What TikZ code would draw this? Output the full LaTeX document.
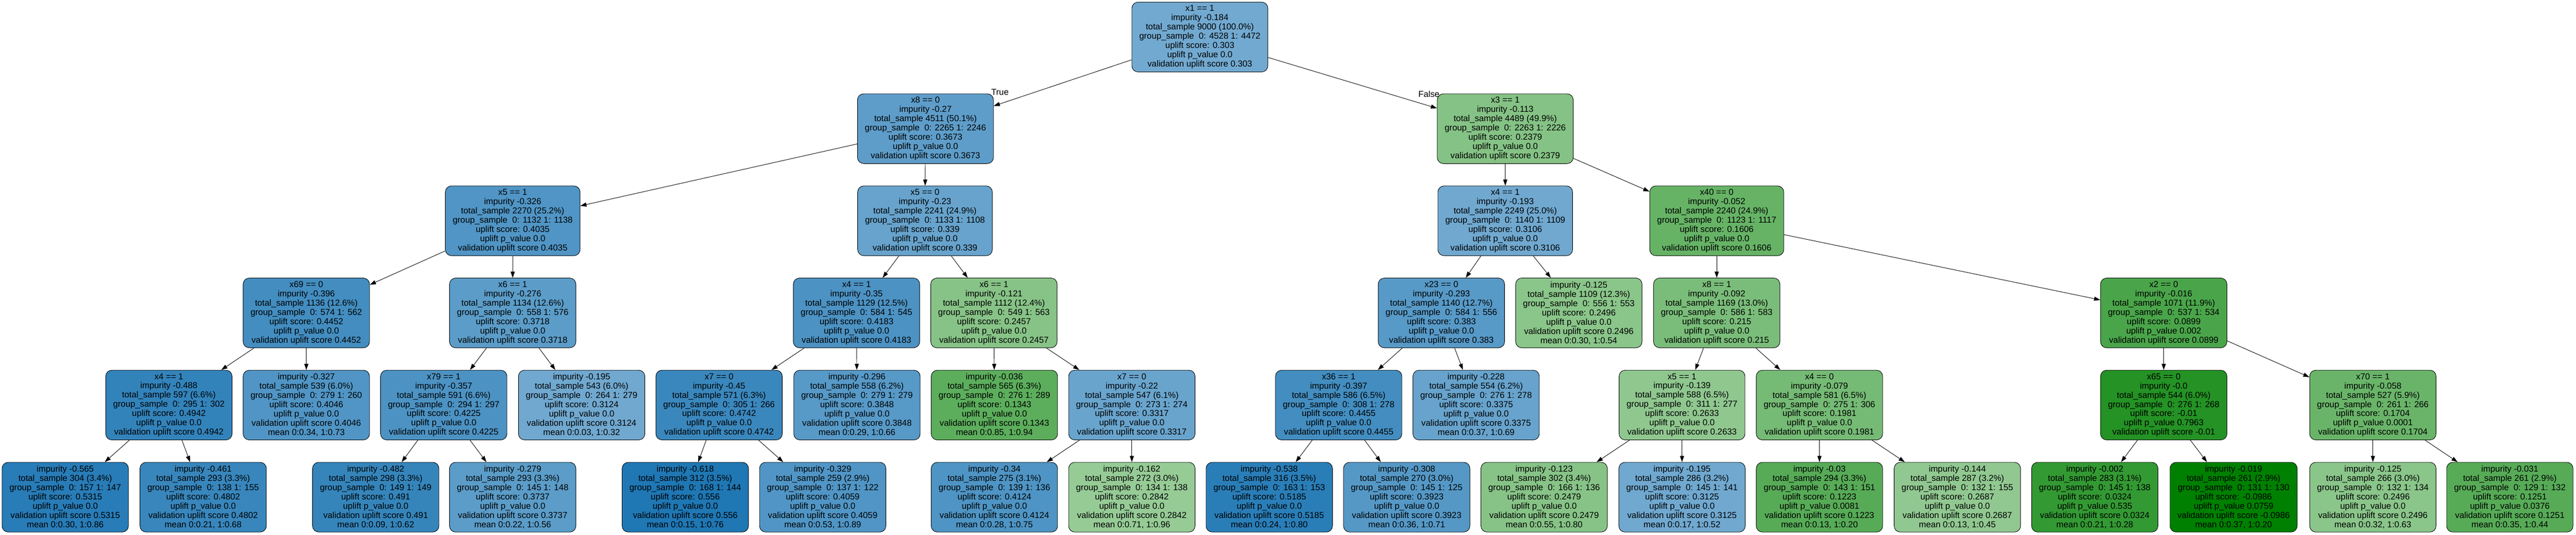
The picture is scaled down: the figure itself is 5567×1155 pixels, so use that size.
\documentclass[tikz,border=0pt]{standalone}
\usepackage{fontspec}
\setmainfont{Liberation Sans}
\usetikzlibrary{arrows.meta}
\definecolor{upblue}{RGB}{31,119,180}
\definecolor{upgreen}{RGB}{0,128,0}
\tikzset{ub/.style={fill=upblue!#1!white},ug/.style={fill=upgreen!#1!white}}

\begin{document}
\begin{tikzpicture}
[x=0.75pt,y=-0.75pt,%
  every node/.style={shape=rectangle,rounded corners=10pt,draw,line width=0.75pt,align=center,%
    font=\fontsize{14pt}{15pt}\selectfont,minimum width=204pt,minimum height=113pt,%
    inner xsep=12pt,inner ysep=0pt},%
  lbl/.style={draw=none,fill=none,rounded corners=0pt,minimum width=0pt,minimum height=0pt,inner sep=1pt},%
  every edge/.style={draw,line width=0.75pt,-{Triangle[length=10pt,width=6.7pt]}}]
\path[use as bounding box] (0,0) rectangle (5567,1155);

\node[ub=63] (n) at (2593,80) {x1 == 1\\impurity -0.184\\total\_sample 9000 (100.0\%)\\group\_sample\ \ 0: 4528 1: 4472\\uplift score: 0.303\\uplift p\_value 0.0\\validation uplift score 0.303};

\node[ub=72] (n0) at (2000,278) {x8 == 0\\impurity -0.27\\total\_sample 4511 (50.1\%)\\group\_sample\ \ 0: 2265 1: 2246\\uplift score: 0.3673\\uplift p\_value 0.0\\validation uplift score 0.3673};
\node[ug=48] (n1) at (3253,278) {x3 == 1\\impurity -0.113\\total\_sample 4489 (49.9\%)\\group\_sample\ \ 0: 2263 1: 2226\\uplift score: 0.2379\\uplift p\_value 0.0\\validation uplift score 0.2379};

\node[ub=78] (n00) at (1108,477) {x5 == 1\\impurity -0.326\\total\_sample 2270 (25.2\%)\\group\_sample\ \ 0: 1132 1: 1138\\uplift score: 0.4035\\uplift p\_value 0.0\\validation uplift score 0.4035};
\node[ub=68] (n01) at (1999,477) {x5 == 0\\impurity -0.23\\total\_sample 2241 (24.9\%)\\group\_sample\ \ 0: 1133 1: 1108\\uplift score: 0.339\\uplift p\_value 0.0\\validation uplift score 0.339};
\node[ub=64] (n10) at (3253,477) {x4 == 1\\impurity -0.193\\total\_sample 2249 (25.0\%)\\group\_sample\ \ 0: 1140 1: 1109\\uplift score: 0.3106\\uplift p\_value 0.0\\validation uplift score 0.3106};
\node[ug=60] (n11) at (3710,477) {x40 == 0\\impurity -0.052\\total\_sample 2240 (24.9\%)\\group\_sample\ \ 0: 1123 1: 1117\\uplift score: 0.1606\\uplift p\_value 0.0\\validation uplift score 0.1606};

\node[ub=84] (n000) at (662,676) {x69 == 0\\impurity -0.396\\total\_sample 1136 (12.6\%)\\group\_sample\ \ 0: 574 1: 562\\uplift score: 0.4452\\uplift p\_value 0.0\\validation uplift score 0.4452};
\node[ub=73] (n001) at (1108,676) {x6 == 1\\impurity -0.276\\total\_sample 1134 (12.6\%)\\group\_sample\ \ 0: 558 1: 576\\uplift score: 0.3718\\uplift p\_value 0.0\\validation uplift score 0.3718};
\node[ub=80] (n010) at (1851,676) {x4 == 1\\impurity -0.35\\total\_sample 1129 (12.5\%)\\group\_sample\ \ 0: 584 1: 545\\uplift score: 0.4183\\uplift p\_value 0.0\\validation uplift score 0.4183};
\node[ug=47] (n011) at (2148,676) {x6 == 1\\impurity -0.121\\total\_sample 1112 (12.4\%)\\group\_sample\ \ 0: 549 1: 563\\uplift score: 0.2457\\uplift p\_value 0.0\\validation uplift score 0.2457};
\node[ub=75] (n100) at (3115,676) {x23 == 0\\impurity -0.293\\total\_sample 1140 (12.7\%)\\group\_sample\ \ 0: 584 1: 556\\uplift score: 0.383\\uplift p\_value 0.0\\validation uplift score 0.383};
\node[ug=46] (n101) at (3412,676) {impurity -0.125\\total\_sample 1109 (12.3\%)\\group\_sample\ \ 0: 556 1: 553\\uplift score: 0.2496\\uplift p\_value 0.0\\validation uplift score 0.2496\\mean 0:0.30, 1:0.54};
\node[ug=52] (n110) at (3710,676) {x8 == 1\\impurity -0.092\\total\_sample 1169 (13.0\%)\\group\_sample\ \ 0: 586 1: 583\\uplift score: 0.215\\uplift p\_value 0.0\\validation uplift score 0.215};
\node[ug=71] (n111) at (4676,676) {x2 == 0\\impurity -0.016\\total\_sample 1071 (11.9\%)\\group\_sample\ \ 0: 537 1: 534\\uplift score: 0.0899\\uplift p\_value 0.002\\validation uplift score 0.0899};

\node[ub=91] (n0000) at (365,875) {x4 == 1\\impurity -0.488\\total\_sample 597 (6.6\%)\\group\_sample\ \ 0: 295 1: 302\\uplift score: 0.4942\\uplift p\_value 0.0\\validation uplift score 0.4942};
\node[ub=78] (n0001) at (662,875) {impurity -0.327\\total\_sample 539 (6.0\%)\\group\_sample\ \ 0: 279 1: 260\\uplift score: 0.4046\\uplift p\_value 0.0\\validation uplift score 0.4046\\mean 0:0.34, 1:0.73};
\node[ub=80] (n0010) at (959,875) {x79 == 1\\impurity -0.357\\total\_sample 591 (6.6\%)\\group\_sample\ \ 0: 294 1: 297\\uplift score: 0.4225\\uplift p\_value 0.0\\validation uplift score 0.4225};
\node[ub=64] (n0011) at (1257,875) {impurity -0.195\\total\_sample 543 (6.0\%)\\group\_sample\ \ 0: 264 1: 279\\uplift score: 0.3124\\uplift p\_value 0.0\\validation uplift score 0.3124\\mean 0:0.03, 1:0.32};
\node[ub=88] (n0100) at (1554,875) {x7 == 0\\impurity -0.45\\total\_sample 571 (6.3\%)\\group\_sample\ \ 0: 305 1: 266\\uplift score: 0.4742\\uplift p\_value 0.0\\validation uplift score 0.4742};
\node[ub=75] (n0101) at (1852,875) {impurity -0.296\\total\_sample 558 (6.2\%)\\group\_sample\ \ 0: 279 1: 279\\uplift score: 0.3848\\uplift p\_value 0.0\\validation uplift score 0.3848\\mean 0:0.29, 1:0.66};
\node[ug=64] (n0110) at (2149,875) {impurity -0.036\\total\_sample 565 (6.3\%)\\group\_sample\ \ 0: 276 1: 289\\uplift score: 0.1343\\uplift p\_value 0.0\\validation uplift score 0.1343\\mean 0:0.85, 1:0.94};
\node[ub=67] (n0111) at (2446,875) {x7 == 0\\impurity -0.22\\total\_sample 547 (6.1\%)\\group\_sample\ \ 0: 273 1: 274\\uplift score: 0.3317\\uplift p\_value 0.0\\validation uplift score 0.3317};
\node[ub=84] (n1000) at (2893,875) {x36 == 1\\impurity -0.397\\total\_sample 586 (6.5\%)\\group\_sample\ \ 0: 308 1: 278\\uplift score: 0.4455\\uplift p\_value 0.0\\validation uplift score 0.4455};
\node[ub=68] (n1001) at (3190,875) {impurity -0.228\\total\_sample 554 (6.2\%)\\group\_sample\ \ 0: 276 1: 278\\uplift score: 0.3375\\uplift p\_value 0.0\\validation uplift score 0.3375\\mean 0:0.37, 1:0.69};
\node[ug=44] (n1100) at (3635,875) {x5 == 1\\impurity -0.139\\total\_sample 588 (6.5\%)\\group\_sample\ \ 0: 311 1: 277\\uplift score: 0.2633\\uplift p\_value 0.0\\validation uplift score 0.2633};
\node[ug=54] (n1101) at (3932,875) {x4 == 0\\impurity -0.079\\total\_sample 581 (6.5\%)\\group\_sample\ \ 0: 275 1: 306\\uplift score: 0.1981\\uplift p\_value 0.0\\validation uplift score 0.1981};
\node[ug=86] (n1110) at (4676,875) {x65 == 0\\impurity -0.0\\total\_sample 544 (6.0\%)\\group\_sample\ \ 0: 276 1: 268\\uplift score: -0.01\\uplift p\_value 0.7963\\validation uplift score -0.01};
\node[ug=59] (n1111) at (5128,875) {x70 == 1\\impurity -0.058\\total\_sample 527 (5.9\%)\\group\_sample\ \ 0: 261 1: 266\\uplift score: 0.1704\\uplift p\_value 0.0001\\validation uplift score 0.1704};

\node[ub=96] (n00000) at (141,1074) {impurity -0.565\\total\_sample 304 (3.4\%)\\group\_sample\ \ 0: 157 1: 147\\uplift score: 0.5315\\uplift p\_value 0.0\\validation uplift score 0.5315\\mean 0:0.30, 1:0.86};
\node[ub=89] (n00001) at (439,1074) {impurity -0.461\\total\_sample 293 (3.3\%)\\group\_sample\ \ 0: 138 1: 155\\uplift score: 0.4802\\uplift p\_value 0.0\\validation uplift score 0.4802\\mean 0:0.21, 1:0.68};
\node[ub=90] (n00100) at (812,1074) {impurity -0.482\\total\_sample 298 (3.3\%)\\group\_sample\ \ 0: 149 1: 149\\uplift score: 0.491\\uplift p\_value 0.0\\validation uplift score 0.491\\mean 0:0.09, 1:0.62};
\node[ub=73] (n00101) at (1108,1074) {impurity -0.279\\total\_sample 293 (3.3\%)\\group\_sample\ \ 0: 145 1: 148\\uplift score: 0.3737\\uplift p\_value 0.0\\validation uplift score 0.3737\\mean 0:0.22, 1:0.56};
\node[ub=100] (n01000) at (1481,1074) {impurity -0.618\\total\_sample 312 (3.5\%)\\group\_sample\ \ 0: 168 1: 144\\uplift score: 0.556\\uplift p\_value 0.0\\validation uplift score 0.556\\mean 0:0.15, 1:0.76};
\node[ub=78] (n01001) at (1778,1074) {impurity -0.329\\total\_sample 259 (2.9\%)\\group\_sample\ \ 0: 137 1: 122\\uplift score: 0.4059\\uplift p\_value 0.0\\validation uplift score 0.4059\\mean 0:0.53, 1:0.89};
\node[ub=79] (n01110) at (2149,1074) {impurity -0.34\\total\_sample 275 (3.1\%)\\group\_sample\ \ 0: 139 1: 136\\uplift score: 0.4124\\uplift p\_value 0.0\\validation uplift score 0.4124\\mean 0:0.28, 1:0.75};
\node[ug=41] (n01111) at (2446,1074) {impurity -0.162\\total\_sample 272 (3.0\%)\\group\_sample\ \ 0: 134 1: 138\\uplift score: 0.2842\\uplift p\_value 0.0\\validation uplift score 0.2842\\mean 0:0.71, 1:0.96};
\node[ub=95] (n10000) at (2743,1074) {impurity -0.538\\total\_sample 316 (3.5\%)\\group\_sample\ \ 0: 163 1: 153\\uplift score: 0.5185\\uplift p\_value 0.0\\validation uplift score 0.5185\\mean 0:0.24, 1:0.80};
\node[ub=76] (n10001) at (3040,1074) {impurity -0.308\\total\_sample 270 (3.0\%)\\group\_sample\ \ 0: 145 1: 125\\uplift score: 0.3923\\uplift p\_value 0.0\\validation uplift score 0.3923\\mean 0:0.36, 1:0.71};
\node[ug=47] (n11000) at (3337,1074) {impurity -0.123\\total\_sample 302 (3.4\%)\\group\_sample\ \ 0: 166 1: 136\\uplift score: 0.2479\\uplift p\_value 0.0\\validation uplift score 0.2479\\mean 0:0.55, 1:0.80};
\node[ub=64] (n11001) at (3635,1074) {impurity -0.195\\total\_sample 286 (3.2\%)\\group\_sample\ \ 0: 145 1: 141\\uplift score: 0.3125\\uplift p\_value 0.0\\validation uplift score 0.3125\\mean 0:0.17, 1:0.52};
\node[ug=66] (n11010) at (3932,1074) {impurity -0.03\\total\_sample 294 (3.3\%)\\group\_sample\ \ 0: 143 1: 151\\uplift score: 0.1223\\uplift p\_value 0.0081\\validation uplift score 0.1223\\mean 0:0.13, 1:0.20};
\node[ug=43] (n11011) at (4230,1074) {impurity -0.144\\total\_sample 287 (3.2\%)\\group\_sample\ \ 0: 132 1: 155\\uplift score: 0.2687\\uplift p\_value 0.0\\validation uplift score 0.2687\\mean 0:0.13, 1:0.45};
\node[ug=80] (n11100) at (4527,1074) {impurity -0.002\\total\_sample 283 (3.1\%)\\group\_sample\ \ 0: 145 1: 138\\uplift score: 0.0324\\uplift p\_value 0.535\\validation uplift score 0.0324\\mean 0:0.21, 1:0.28};
\node[ug=100] (n11101) at (4827,1074) {impurity -0.019\\total\_sample 261 (2.9\%)\\group\_sample\ \ 0: 131 1: 130\\uplift score: -0.0986\\uplift p\_value 0.0759\\validation uplift score -0.0986\\mean 0:0.37, 1:0.20};
\node[ug=46] (n11110) at (5128,1074) {impurity -0.125\\total\_sample 266 (3.0\%)\\group\_sample\ \ 0: 132 1: 134\\uplift score: 0.2496\\uplift p\_value 0.0\\validation uplift score 0.2496\\mean 0:0.32, 1:0.63};
\node[ug=66] (n11111) at (5424,1074) {impurity -0.031\\total\_sample 261 (2.9\%)\\group\_sample\ \ 0: 129 1: 132\\uplift score: 0.1251\\uplift p\_value 0.0376\\validation uplift score 0.1251\\mean 0:0.35, 1:0.44};

\node[lbl] (t) at (2161,199) {True};
\node[lbl] (f) at (3088,203) {False};

\path (n) edge (n0) edge (n1);
\path (n0) edge (n00) edge (n01);
\path (n1) edge (n10) edge (n11);
\path (n00) edge (n000) edge (n001);
\path (n01) edge (n010) edge (n011);
\path (n10) edge (n100) edge (n101);
\path (n11) edge (n110) edge (n111);
\path (n000) edge (n0000) edge (n0001);
\path (n001) edge (n0010) edge (n0011);
\path (n010) edge (n0100) edge (n0101);
\path (n011) edge (n0110) edge (n0111);
\path (n100) edge (n1000) edge (n1001);
\path (n110) edge (n1100) edge (n1101);
\path (n111) edge (n1110) edge (n1111);
\path (n0000) edge (n00000) edge (n00001);
\path (n0010) edge (n00100) edge (n00101);
\path (n0100) edge (n01000) edge (n01001);
\path (n0111) edge (n01110) edge (n01111);
\path (n1000) edge (n10000) edge (n10001);
\path (n1100) edge (n11000) edge (n11001);
\path (n1101) edge (n11010) edge (n11011);
\path (n1110) edge (n11100) edge (n11101);
\path (n1111) edge (n11110) edge (n11111);
\end{tikzpicture}
\end{document}
